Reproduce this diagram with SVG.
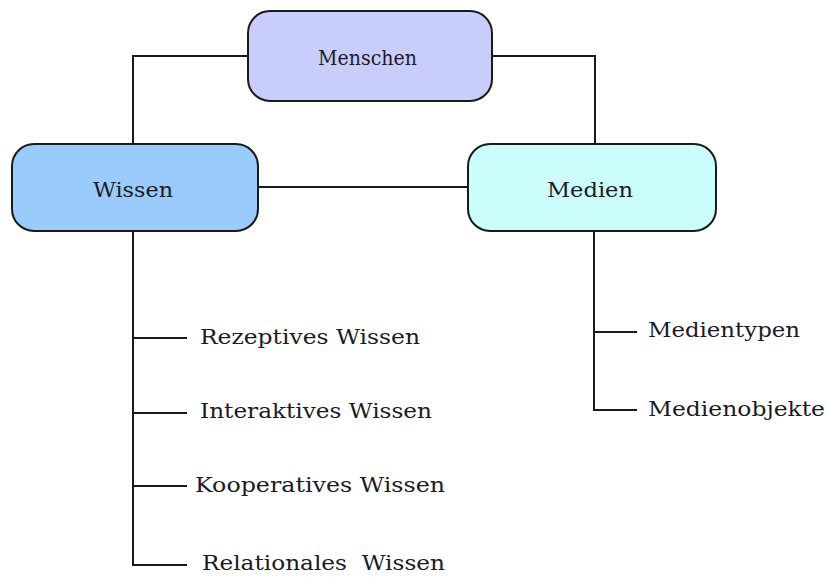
<svg xmlns="http://www.w3.org/2000/svg" width="828" height="577" viewBox="0 0 828 577">
<style>
.box{stroke:#1a1a1a;stroke-width:2}
.ln{stroke:#1a1a1a;stroke-width:2;fill:none}
text{font-family:"DejaVu Serif","Liberation Serif",serif;fill:#1a1a2a;font-size:21px}
</style>
<rect width="828" height="577" fill="#ffffff"/>
<g id="connectors">
<path class="ln" d="M248 56 H133 V144"/>
<path class="ln" d="M492 56 H595 V144"/>
<path class="ln" d="M258 187 H468"/>
<path class="ln" d="M133 231 V565 H187"/>
<path class="ln" d="M133 338 H187 M133 413 H187 M133 486 H187"/>
<path class="ln" d="M594 231 V410 H637"/>
<path class="ln" d="M594 332 H637"/>
</g>
<g id="menschen">
<rect class="box" x="248" y="11" width="244" height="90" rx="22" fill="#c9cdfb"/>
<text x="318" y="65" textLength="99" lengthAdjust="spacingAndGlyphs">Menschen</text>
</g>
<g id="wissen">
<rect class="box" x="12" y="144" width="246" height="87" rx="22" fill="#99ccfd"/>
<text x="93" y="197" textLength="80" lengthAdjust="spacingAndGlyphs">Wissen</text>
</g>
<g id="medien">
<rect class="box" x="468" y="144" width="248" height="87" rx="22" fill="#ccfdfd"/>
<text x="547" y="197" textLength="86" lengthAdjust="spacingAndGlyphs">Medien</text>
</g>
<g id="rezeptives"><text x="200" y="344" textLength="220" lengthAdjust="spacingAndGlyphs">Rezeptives Wissen</text></g>
<g id="interaktives"><text x="200" y="418" textLength="232" lengthAdjust="spacingAndGlyphs">Interaktives Wissen</text></g>
<g id="kooperatives"><text x="195" y="492" textLength="250" lengthAdjust="spacingAndGlyphs">Kooperatives Wissen</text></g>
<g id="relationales"><text x="202" y="570" textLength="243" lengthAdjust="spacingAndGlyphs" xml:space="preserve">Relationales  Wissen</text></g>
<g id="medientypen"><text x="648" y="337" textLength="152" lengthAdjust="spacingAndGlyphs">Medientypen</text></g>
<g id="medienobjekte"><text x="648" y="416" textLength="177" lengthAdjust="spacingAndGlyphs">Medienobjekte</text></g>
</svg>
